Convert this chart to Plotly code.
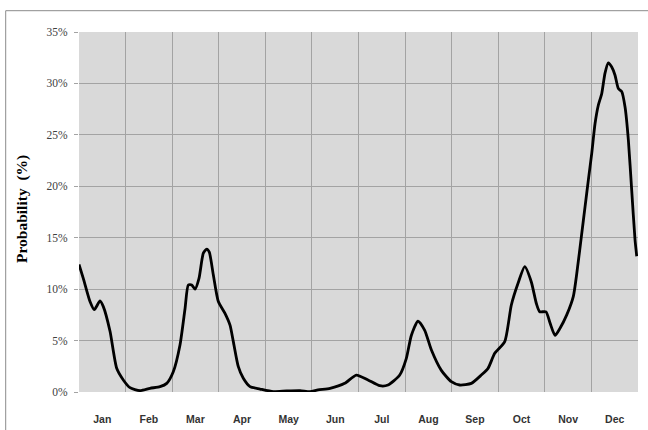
import plotly.graph_objects as go

# month position (0 = start of Jan, 12 = end of Dec) and probability (%)
month_pos = [0.000, 0.092, 0.236, 0.328, 0.451, 0.522, 0.666, 0.809, 0.951, 1.095,
             1.31, 1.524, 1.739, 1.883, 2.024, 2.168, 2.276, 2.347, 2.42, 2.49,
             2.576, 2.669, 2.742, 2.797, 2.883, 2.991, 3.134, 3.242, 3.313, 3.42,
             3.527, 3.671, 3.886, 4.171, 4.459, 4.745, 4.959, 5.131, 5.389, 5.704,
             5.953, 6.204, 6.456, 6.634, 6.885, 7.027, 7.134, 7.278, 7.422, 7.563,
             7.778, 7.993, 8.173, 8.422, 8.637, 8.781, 8.924, 9.139, 9.281, 9.425,
             9.569, 9.71, 9.818, 9.89, 10.026, 10.112, 10.219, 10.326, 10.47, 10.612,
             10.685, 10.792, 10.863, 10.934, 11.007, 11.078, 11.149, 11.221, 11.292, 11.363,
             11.436, 11.507, 11.578, 11.651, 11.722, 11.793, 11.865, 11.936, 11.973]
probability = [12.4, 11.05, 8.8, 8.0, 8.85, 8.3, 5.9, 2.3, 1.17, 0.42,
               0.13, 0.36, 0.52, 0.84, 1.97, 4.57, 8.1, 10.4, 10.4, 10.0,
               11.05, 13.5, 13.9, 13.6, 11.4, 8.8, 7.65, 6.5, 4.9, 2.46,
               1.33, 0.52, 0.29, 0.03, 0.1, 0.13, 0.03, 0.2, 0.36, 0.84,
               1.65, 1.17, 0.61, 0.68, 1.65, 3.27, 5.5, 6.9, 6.0, 4.1,
               2.1, 1.0, 0.68, 0.84, 1.65, 2.3, 3.76, 4.9, 8.46, 10.57,
               12.18, 10.7, 8.6, 7.8, 7.8, 6.7, 5.5, 6.2, 7.5, 9.3,
               11.5, 15.4, 18.0, 20.6, 23.2, 26.1, 27.9, 29.0, 31.0, 32.0,
               31.6, 30.8, 29.5, 29.2, 27.7, 24.5, 19.6, 14.8, 13.2]

month_labels = ["Jan", "Feb", "Mar", "Apr", "May", "Jun",
                "Jul", "Aug", "Sep", "Oct", "Nov", "Dec"]
month_centers = [i + 0.5 for i in range(12)]
y_ticks = [0, 5, 10, 15, 20, 25, 30, 35]

fig = go.Figure()
fig.add_trace(go.Scatter(
    x=month_pos, y=probability, mode="lines",
    line=dict(color="black", width=2.8, shape="spline", smoothing=0.6),
    hoverinfo="skip", showlegend=False,
))

grid_col = "#a3a3a3"
fig.update_layout(
    width=648, height=430,
    margin=dict(l=79, r=10, t=32, b=38),
    paper_bgcolor="white",
    plot_bgcolor="#d9d9d9",
    xaxis=dict(
        range=[0, 12], automargin=False,
        tickvals=month_centers,
        ticktext=["<b>%s</b>" % m for m in month_labels],
        showgrid=False, zeroline=False,
        ticks="outside", ticklen=17, tickcolor="rgba(0,0,0,0)",
        tickfont=dict(family="Liberation Sans", size=10.5, color="#333333"),
        minor=dict(tick0=0, dtick=1, showgrid=True, gridcolor=grid_col, gridwidth=1, ticks=""),
        showline=False,
    ),
    yaxis=dict(
        range=[0, 35], automargin=False,
        tickvals=y_ticks,
        ticktext=["%d%%" % v for v in y_ticks],
        showgrid=True, gridcolor=grid_col, gridwidth=1,
        zeroline=False,
        ticks="outside", ticklen=4, tickcolor=grid_col,
        ticklabelstandoff=4,
        tickfont=dict(family="Liberation Serif", size=11.5, color="#404040"),
        showline=False,
    ),
    annotations=[dict(text="<b>Probability  (%)</b>", xref="paper", yref="paper",
                      x=(22 - 79) / 559, y=(392 - 209) / 360, textangle=-90,
                      showarrow=False, xanchor="center", yanchor="middle",
                      font=dict(family="Liberation Serif", size=15.5, color="black"))],
    shapes=[dict(type="rect", xref="paper", yref="paper",
                 x0=(5.7 - 79) / 559, x1=(652 - 79) / 559,
                 y0=(392 - 434) / 360, y1=(392 - 10.7) / 360,
                 line=dict(color="#8c8c8c", width=1), fillcolor="rgba(0,0,0,0)",
                 layer="below")],
)

fig.write_html("out.html",
               config={"displayModeBar": False},
               post_script="document.body.style.margin='0';document.body.style.padding='0';")
